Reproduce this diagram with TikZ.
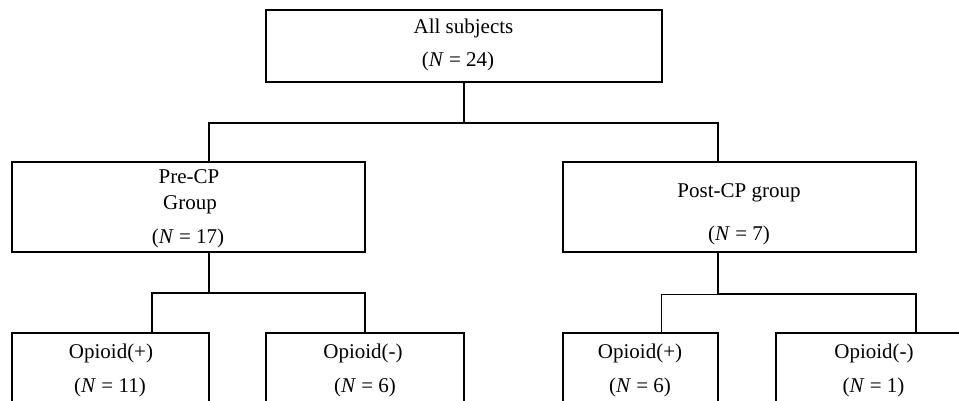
\documentclass[tikz,border=0pt]{standalone}
\usepackage{fontspec}
\setmainfont{Liberation Serif}
\usetikzlibrary{positioning,calc}

\begin{document}
\begin{tikzpicture}[x=1pt, y=-1pt,
  every node/.style={font=\fontsize{21}{25}\selectfont},
  box/.style={draw, line width=2pt, inner sep=0pt, minimum height=#1},
  box/.default=90pt,
  lbl/.style={anchor=base, inner sep=0pt},
  conn/.style={line width=2pt},
  thinconn/.style={line width=1pt}]
  \useasboundingbox (0,0) rectangle (959,400);
  \clip (0,0) rectangle (959,400);

  % Top box
  \node[box=72pt, minimum width=396pt] (all) at (464, 46) {};
  \node[lbl] at (463.5, 33) {All subjects};
  \node[lbl] at (458, 66) {(\textit{N} = 24)};

  % Second level
  \node[box, minimum width=353pt] (pre) at (188.5, 207) {};
  \node[lbl] at (189, 183) {Pre-CP};
  \node[lbl] at (190, 209) {Group};
  \node[lbl] at (188, 243) {(\textit{N} = 17)};

  \node[box, minimum width=353pt] (post) at (739.5, 207) {};
  \node[lbl] at (739, 197) {Post-CP group};
  \node[lbl] at (739, 240) {(\textit{N} = 7)};

  % Third level
  \node[box=87pt, minimum width=197pt] (preplus) at (110.5, 376.5) {};
  \node[lbl] at (111, 358) {Opioid(+)};
  \node[lbl] at (110, 392) {(\textit{N} = 11)};

  \node[box=87pt, minimum width=198pt] (preminus) at (365, 376.5) {};
  \node[lbl] at (363, 358) {Opioid(-)};
  \node[lbl] at (365, 392) {(\textit{N} = 6)};

  \node[box=87pt, minimum width=155pt] (postplus) at (640.5, 376.5) {};
  \node[lbl] at (640, 358) {Opioid(+)};
  \node[lbl] at (640, 392) {(\textit{N} = 6)};

  \node[box=87pt, minimum width=200pt] (postminus) at (876, 376.5) {};
  \node[lbl] at (874, 358) {Opioid(-)};
  \node[lbl] at (873.5, 392) {(\textit{N} = 1)};

  % Connectors
  \draw[conn] (all.south) -- ++(0,40) -| ([xshift=20.5pt]pre.north);
  \draw[conn] (all.south) -- ++(0,40) -| ([xshift=-21.5pt]post.north);
  \draw[conn] ([xshift=20.5pt]pre.south) -- ++(0,40) -| ([xshift=41.5pt]preplus.north);
  \draw[conn] ([xshift=20.5pt]pre.south) -- ++(0,40) -| (preminus.north);
  \draw[conn] ([xshift=-21.5pt]post.south) -- ++(0,41);
  \draw[thinconn] ([xshift=-21.5pt,yshift=-41pt]post.south) -| ([xshift=21pt]postplus.north);
  \draw[conn] ([xshift=-21.5pt,yshift=-41pt]post.south) -| ([xshift=40pt]postminus.north);
\end{tikzpicture}
\end{document}
